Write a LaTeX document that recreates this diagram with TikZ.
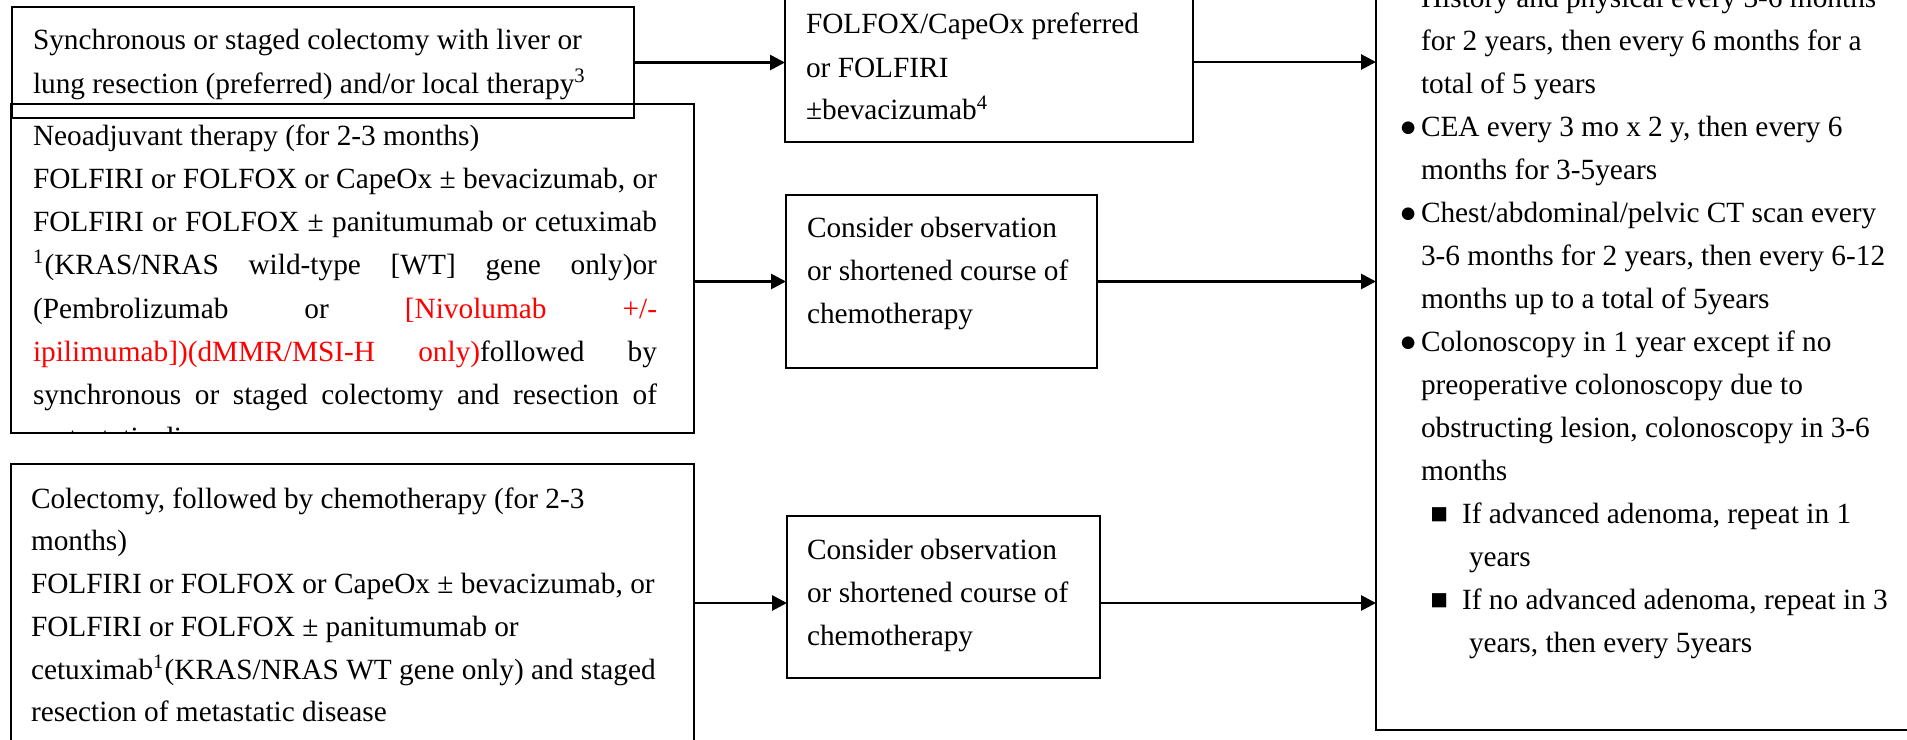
\documentclass[tikz,border=0pt]{standalone}
\usepackage{fontspec}
\setmainfont{Liberation Serif}
\usetikzlibrary{arrows.meta}
% list markers hung to the left of the text
\newcommand\bulc{\llap{●\kern1.6pt}}
\newcommand\bulsq{\llap{■\kern5.6pt}}
\begin{document}
\begin{tikzpicture}[x=0.4pt,y=-0.4pt,
  frame/.style={draw=black, line width=1.1pt, inner sep=0pt, outer sep=0pt, anchor=north west},
  txt/.style={inner sep=0pt, outer sep=0pt, anchor=base west, text=black,
              font=\fontsize{11.73pt}{17.2pt}\selectfont},
  link/.style={draw=black, line width=1.1pt, -{Triangle[length=6pt,width=6pt]}}]
\useasboundingbox (0,0) rectangle (1907,740);
\clip (0,0) rectangle (1907,740);

% boxes
\node[frame, minimum width=248.8pt, minimum height=44.4pt]  (A) at (12,7)    {};
\node[frame, minimum width=273.2pt, minimum height=131.6pt] (B) at (11,104)  {};
\node[frame, minimum width=273.2pt, minimum height=134.4pt] (C) at (11,464)  {};
\node[frame, minimum width=163.2pt, minimum height=64pt]    (D) at (785,-18) {};
\node[frame, minimum width=124.4pt, minimum height=69.2pt]  (F) at (786,195) {};
\node[frame, minimum width=125.2pt, minimum height=64.8pt]  (G) at (787,516) {};
\node[frame, minimum width=225.6pt, minimum height=300pt]   (E) at (1376,-20) {};

% texts
\node[txt] (tA) at (33,50) {\parbox[t]{300pt}{\baselineskip=17.2pt
Synchronous or staged colectomy with liver or\\
lung resection (preferred) and/or local therapy\textsuperscript{3}}};

\begin{scope}
\clip (B.north west) rectangle (B.south east);
\node[txt] (tB) at (33,145) {\parbox[t]{249.6pt}{\baselineskip=17.3pt
Neoadjuvant therapy (for 2-3 months)\\
\makebox[\linewidth][s]{FOLFIRI or FOLFOX or CapeOx ± bevacizumab, or}\\
\makebox[\linewidth][s]{FOLFIRI or FOLFOX ± panitumumab or cetuximab}\\
\makebox[\linewidth][s]{\textsuperscript{1}(KRAS/NRAS wild-type [WT] gene only)or}\\
\makebox[\linewidth][s]{(Pembrolizumab or \textcolor{red}{[Nivolumab +/-}}\\
\makebox[\linewidth][s]{\textcolor{red}{ipilimumab])(dMMR/MSI-H only)}followed by}\\
\makebox[\linewidth][s]{synchronous or staged colectomy and resection of}\\
metastatic disease}};
\end{scope}

\node[txt] (tC) at (31,508) {\parbox[t]{300pt}{\baselineskip=17.1pt
Colectomy, followed by chemotherapy (for 2-3\\
months)\\
FOLFIRI or FOLFOX or CapeOx ± bevacizumab, or\\
FOLFIRI or FOLFOX ± panitumumab or\\
cetuximab\textsuperscript{1}(KRAS/NRAS WT gene only) and staged\\
resection of metastatic disease}};

\node[txt] (tD) at (806,34) {\parbox[t]{200pt}{\baselineskip=17.2pt
FOLFOX/CapeOx preferred\\
or FOLFIRI\\
±bevacizumab\textsuperscript{4}}};

\node[txt] (tF) at (807,237) {\parbox[t]{200pt}{\baselineskip=17.2pt
Consider observation\\
or shortened course of\\
chemotherapy}};

\node[txt] (tG) at (807,559) {\parbox[t]{200pt}{\baselineskip=17.2pt
Consider observation\\
or shortened course of\\
chemotherapy}};

\node[txt] (tE) at (1421,7) {\parbox[t]{400pt}{\baselineskip=17.2pt
History and physical every 3-6 months\\
for 2 years, then every 6 months for a\\
total of 5 years\\
\bulc CEA every 3 mo x 2 y, then every 6\\
months for 3-5years\\
\bulc Chest/abdominal/pelvic CT scan every\\
3-6 months for 2 years, then every 6-12\\
months up to a total of 5years\\
\bulc Colonoscopy in 1 year except if no\\
preoperative colonoscopy due to\\
obstructing lesion, colonoscopy in 3-6\\
months\\
\hspace*{16.4pt}\bulsq If advanced adenoma, repeat in 1\\
\hspace*{19.2pt}years\\
\hspace*{16.4pt}\bulsq If no advanced adenoma, repeat in 3\\
\hspace*{19.2pt}years, then every 5years}};

% connectors
\coordinate (gIn)  at ([yshift=-2.4pt]G.west);
\coordinate (gOut) at ([yshift=-2.4pt]G.east);
\draw[link] (A.east) -- (A.east -| D.west);
\draw[link] (D.east) -- (D.east -| E.west);
\draw[link] (B.east |- F.west) -- (F.west);
\draw[link] (F.east) -- (F.east -| E.west);
\draw[link] (C.east |- gIn) -- (gIn);
\draw[link] (gOut) -- (gOut -| E.west);
\end{tikzpicture}
\end{document}
